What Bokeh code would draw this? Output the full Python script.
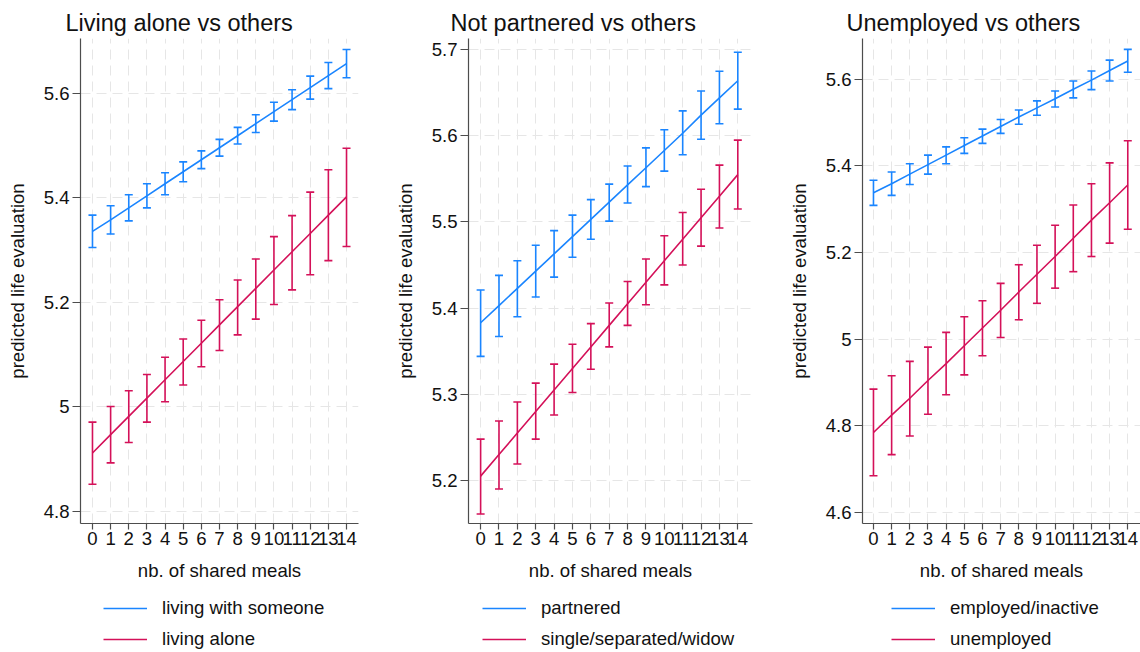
from bokeh.plotting import figure
from bokeh.models import (ColumnDataSource, Whisker, TeeHead, FixedTicker,
                          CustomJSTickFormatter, Legend, LegendItem, Range1d)
from bokeh.layouts import row, column
from bokeh.embed import file_html
from bokeh.resources import INLINE

# ---------------- data ----------------
shared_meals = [0, 1, 2, 3, 4, 5, 6, 7, 8, 9, 10, 11, 12, 13, 14]

# Panel 1: Living alone vs others
with_someone_est = [5.336, 5.358, 5.381, 5.404, 5.427, 5.450, 5.473, 5.496, 5.519, 5.542, 5.565, 5.588, 5.611, 5.634, 5.657]
with_someone_lo = [5.305, 5.331, 5.356, 5.381, 5.406, 5.431, 5.456, 5.480, 5.503, 5.525, 5.547, 5.569, 5.589, 5.609, 5.630]
with_someone_hi = [5.367, 5.385, 5.406, 5.427, 5.448, 5.469, 5.490, 5.512, 5.535, 5.559, 5.583, 5.607, 5.633, 5.659, 5.684]
alone_est = [4.912, 4.947, 4.982, 5.017, 5.052, 5.087, 5.122, 5.157, 5.192, 5.227, 5.262, 5.297, 5.332, 5.367, 5.402]
alone_lo = [4.852, 4.893, 4.932, 4.971, 5.010, 5.042, 5.077, 5.108, 5.138, 5.168, 5.196, 5.224, 5.253, 5.280, 5.307]
alone_hi = [4.971, 5.001, 5.031, 5.062, 5.095, 5.130, 5.166, 5.205, 5.243, 5.283, 5.326, 5.366, 5.411, 5.454, 5.495]
yticks_1 = [4.8, 5.0, 5.2, 5.4, 5.6]

# Panel 2: Not partnered vs others
partnered_est = [5.383, 5.403, 5.423, 5.443, 5.463, 5.483, 5.503, 5.523, 5.543, 5.563, 5.583, 5.603, 5.624, 5.644, 5.664]
partnered_lo = [5.344, 5.367, 5.390, 5.413, 5.436, 5.459, 5.480, 5.501, 5.522, 5.541, 5.559, 5.578, 5.596, 5.614, 5.631]
partnered_hi = [5.421, 5.438, 5.455, 5.473, 5.490, 5.508, 5.526, 5.544, 5.565, 5.586, 5.607, 5.629, 5.652, 5.675, 5.697]
single_est = [5.205, 5.230, 5.255, 5.280, 5.305, 5.330, 5.355, 5.380, 5.405, 5.430, 5.455, 5.480, 5.505, 5.530, 5.555]
single_lo = [5.161, 5.190, 5.219, 5.248, 5.276, 5.302, 5.329, 5.355, 5.380, 5.404, 5.427, 5.450, 5.472, 5.493, 5.515]
single_hi = [5.248, 5.269, 5.291, 5.313, 5.335, 5.358, 5.382, 5.406, 5.431, 5.457, 5.484, 5.511, 5.538, 5.566, 5.595]
yticks_2 = [5.2, 5.3, 5.4, 5.5, 5.6, 5.7]

# Panel 3: Unemployed vs others
employed_est = [5.338, 5.359, 5.381, 5.403, 5.425, 5.447, 5.469, 5.491, 5.513, 5.534, 5.555, 5.577, 5.598, 5.620, 5.642]
employed_lo = [5.309, 5.332, 5.357, 5.381, 5.405, 5.429, 5.452, 5.475, 5.496, 5.517, 5.536, 5.557, 5.576, 5.596, 5.616]
employed_hi = [5.367, 5.386, 5.405, 5.425, 5.444, 5.465, 5.485, 5.507, 5.529, 5.550, 5.573, 5.596, 5.619, 5.644, 5.669]
unemployed_est = [4.785, 4.825, 4.864, 4.905, 4.944, 4.985, 5.026, 5.067, 5.109, 5.150, 5.191, 5.233, 5.275, 5.315, 5.356]
unemployed_lo = [4.685, 4.734, 4.777, 4.827, 4.872, 4.918, 4.962, 5.004, 5.045, 5.083, 5.118, 5.156, 5.191, 5.222, 5.254]
unemployed_hi = [4.885, 4.916, 4.949, 4.982, 5.016, 5.052, 5.089, 5.129, 5.172, 5.217, 5.263, 5.310, 5.359, 5.407, 5.458]
yticks_3 = [4.6, 4.8, 5.0, 5.2, 5.4, 5.6]

titles = ["Living alone vs others", "Not partnered vs others", "Unemployed vs others"]
legend_labels = [["living with someone", "living alone"],
                 ["partnered", "single/separated/widow"],
                 ["employed/inactive", "unemployed"]]
x_label = "nb. of shared meals"
y_label = "predicted life evaluation"

# ---------------- styling ----------------
FONT = "Liberation Sans"
BLUE = "#1a85ff"
RED = "#d41159"
AXIS_COL = "#4d4d4d"
GRID_COL = "#e6e6e6"
TXT = "18.6px"
MAIN_H = 590
LEG_H = 62


def make_panel(title, series, labels, yticks, y_range, x_range, width,
               left, right, title_offset, legend_x):
    p = figure(width=width, height=MAIN_H, output_backend="svg",
               toolbar_location=None, title=title,
               x_range=Range1d(*x_range), y_range=Range1d(*y_range),
               min_border_left=left, min_border_right=right,
               min_border_top=38, min_border_bottom=MAIN_H - 523)
    p.outline_line_color = None
    p.background_fill_color = "white"
    p.border_fill_color = "white"

    p.title.text_font = FONT
    p.title.text_font_size = "23.5px"
    p.title.text_font_style = "normal"
    p.title.text_color = "#111111"
    p.title.align = "left"
    p.title.offset = title_offset
    p.title.standoff = 6

    p.xaxis.ticker = FixedTicker(ticks=shared_meals)
    p.yaxis.ticker = FixedTicker(ticks=yticks)
    p.yaxis.formatter = CustomJSTickFormatter(
        code="return String(Math.round(tick * 10) / 10);")
    p.xaxis.formatter = CustomJSTickFormatter(code="return String(tick);")

    for ax in (p.xaxis[0], p.yaxis[0]):
        ax.axis_line_color = AXIS_COL
        ax.axis_line_width = 1.2
        ax.major_tick_line_color = AXIS_COL
        ax.major_tick_line_width = 1.2
        ax.major_tick_in = 0
        ax.minor_tick_line_color = None
        ax.major_label_text_font = FONT
        ax.major_label_text_font_size = TXT
        ax.major_label_text_color = "#111111"
        ax.axis_label_text_font = FONT
        ax.axis_label_text_font_size = TXT
        ax.axis_label_text_font_style = "normal"
        ax.axis_label_text_color = "#111111"
    p.xaxis.axis_label = x_label
    p.yaxis.axis_label = y_label
    p.xaxis.major_tick_out = 6
    p.xaxis.major_label_standoff = 2
    p.xaxis.axis_label_standoff = 12
    p.yaxis.major_tick_out = 8
    p.yaxis.major_label_standoff = 3
    p.yaxis.axis_label_standoff = 13

    for g in (p.xgrid[0], p.ygrid[0]):
        g.grid_line_color = GRID_COL
        g.grid_line_dash = "10 6"
        g.grid_line_width = 1

    # legend lives in its own small figure below the plot (same frame)
    lf = figure(width=width, height=LEG_H, output_backend="svg",
                toolbar_location=None, x_range=Range1d(0, 1),
                y_range=Range1d(0, 1),
                min_border_left=left, min_border_right=right,
                min_border_top=0, min_border_bottom=0)
    lf.axis.visible = False
    lf.grid.visible = False
    lf.outline_line_color = None
    lf.border_fill_color = "white"

    items = []
    for (est, lo, hi), color, lab in zip(series, (BLUE, RED), labels):
        src = ColumnDataSource(dict(x=shared_meals, y=est, lo=lo, hi=hi))
        w = Whisker(source=src, base="x", lower="lo", upper="hi",
                    line_color=color, line_width=1.6,
                    upper_head=TeeHead(size=8, line_color=color, line_width=1.6),
                    lower_head=TeeHead(size=8, line_color=color, line_width=1.6))
        p.add_layout(w)
        p.line("x", "y", source=src, line_color=color, line_width=1.6)
        # key renderer: same series, drawn off-range in the legend strip
        key = lf.line(x=shared_meals, y=est, line_color=color, line_width=1.6)
        items.append(LegendItem(label=lab, renderers=[key]))

    legend = Legend(items=items, location=(legend_x, 2),
                    orientation="vertical", padding=0, margin=0, spacing=9,
                    glyph_height=20, glyph_width=44, label_standoff=15,
                    label_height=20, label_text_font=FONT,
                    label_text_font_size=TXT, label_text_color="#111111",
                    border_line_color=None, background_fill_alpha=0)
    lf.add_layout(legend)
    return column(p, lf)


c1 = make_panel(titles[0],
                [(with_someone_est, with_someone_lo, with_someone_hi),
                 (alone_est, alone_lo, alone_hi)],
                legend_labels[0], yticks_1, (4.777, 5.705), (-0.66, 14.66),
                width=388, left=80, right=30, title_offset=-15, legend_x=23)
c2 = make_panel(titles[1],
                [(partnered_est, partnered_lo, partnered_hi),
                 (single_est, single_lo, single_hi)],
                legend_labels[1], yticks_2, (5.150, 5.713), (-0.66, 14.8),
                width=380, left=80, right=16, title_offset=-18, legend_x=14)
c3 = make_panel(titles[2],
                [(employed_est, employed_lo, employed_hi),
                 (unemployed_est, unemployed_lo, unemployed_hi)],
                legend_labels[2], yticks_3, (4.575, 5.694), (-0.604, 14.7),
                width=372, left=94, right=0, title_offset=-16, legend_x=29)

layout = row(c1, c2, c3)
open("out.html", "w").write(file_html(layout, INLINE))
